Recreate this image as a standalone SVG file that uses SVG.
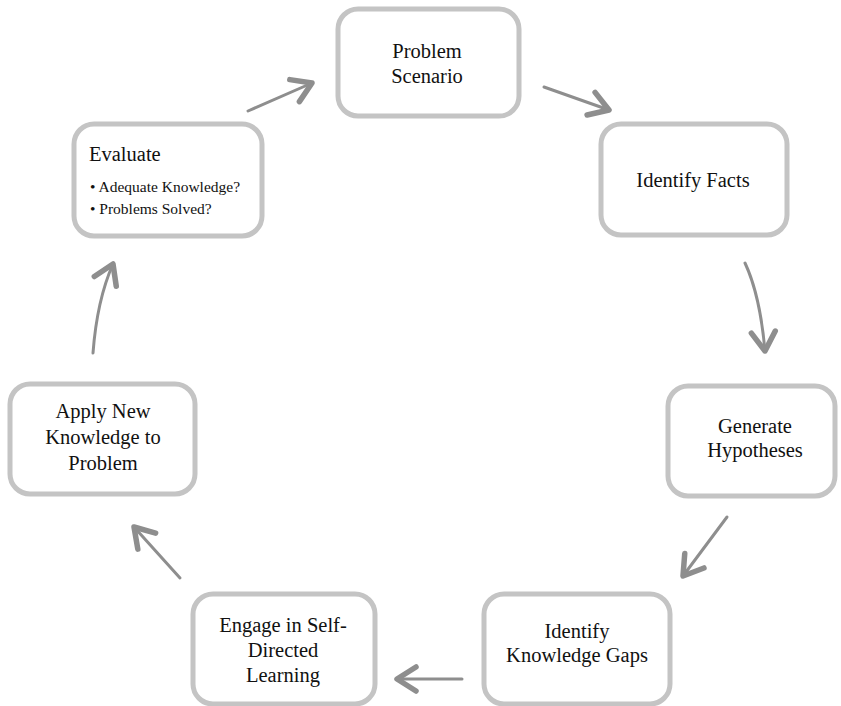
<svg xmlns="http://www.w3.org/2000/svg" width="841" height="706" viewBox="0 0 841 706">
<style>
.box{fill:#fff;stroke:#c4c4c4;stroke-width:5}
.t{font-family:"Liberation Serif","Times New Roman",serif;font-size:20.5px;fill:#111;text-anchor:middle}
.s{font-family:"Liberation Serif","Times New Roman",serif;font-size:15.5px;fill:#111}
.c{fill:none;stroke:#8e8e8e;stroke-width:3;stroke-linecap:round}
</style>
<defs>
<marker id="ah" markerUnits="userSpaceOnUse" markerWidth="40" markerHeight="40" viewBox="-24 -20 40 40" refX="0" refY="0" orient="auto" overflow="visible">
<path d="M-19,-12 L0,0 L-19,12" fill="none" stroke="#8e8e8e" stroke-width="5.5" stroke-linecap="round" stroke-linejoin="round"/>
</marker>
</defs>
<rect width="841" height="706" fill="#fff"/>
<g id="connectors">
<path class="c" d="M248,111 L312,83" marker-end="url(#ah)"/>
<path class="c" d="M544,87 L609,110" marker-end="url(#ah)"/>
<path class="c" d="M745,263 Q760,295 765,351" marker-end="url(#ah)"/>
<path class="c" d="M727,517 L683,576" marker-end="url(#ah)"/>
<path class="c" d="M462,679 L397,679" marker-end="url(#ah)"/>
<path class="c" d="M180,578 L134,527" marker-end="url(#ah)"/>
<path class="c" d="M93,353 Q97,300 113,264" marker-end="url(#ah)"/>
</g>
<g id="problem-scenario">
<rect class="box" x="338" y="9" width="181" height="107" rx="20"/>
<text class="t" x="427" y="58">Problem</text>
<text class="t" x="427" y="83">Scenario</text>
</g>
<g id="identify-facts">
<rect class="box" x="601" y="124" width="186" height="111" rx="20"/>
<text class="t" x="693" y="187">Identify Facts</text>
</g>
<g id="generate-hypotheses">
<rect class="box" x="668" y="386" width="167" height="110" rx="20"/>
<text class="t" x="755" y="433">Generate</text>
<text class="t" x="755" y="457">Hypotheses</text>
</g>
<g id="identify-knowledge-gaps">
<rect class="box" x="484" y="594" width="186" height="110" rx="20"/>
<text class="t" x="577" y="638">Identify</text>
<text class="t" x="577" y="662">Knowledge Gaps</text>
</g>
<g id="self-directed-learning">
<rect class="box" x="193" y="594" width="182" height="110" rx="20"/>
<text class="t" x="283" y="632">Engage in Self-</text>
<text class="t" x="283" y="657">Directed</text>
<text class="t" x="283" y="682">Learning</text>
</g>
<g id="apply-knowledge">
<rect class="box" x="10" y="384" width="185" height="110" rx="20"/>
<text class="t" x="103" y="418">Apply New</text>
<text class="t" x="103" y="444">Knowledge to</text>
<text class="t" x="103" y="470">Problem</text>
</g>
<g id="evaluate">
<rect class="box" x="74" y="124" width="188" height="112" rx="20"/>
<text class="t" x="89" y="161" style="text-anchor:start">Evaluate</text>
<text class="s" x="90" y="192">• Adequate Knowledge?</text>
<text class="s" x="90" y="214">• Problems Solved?</text>
</g>
</svg>
